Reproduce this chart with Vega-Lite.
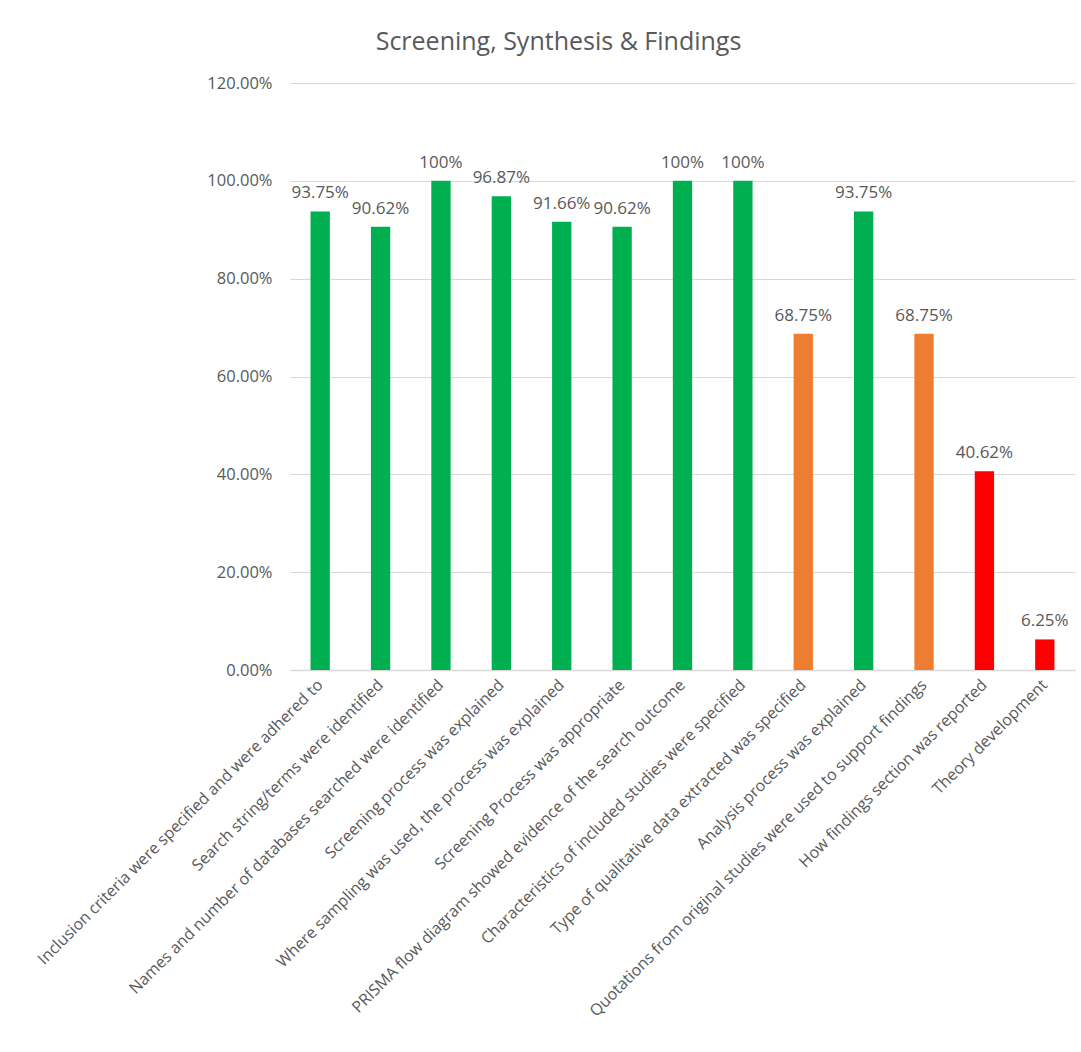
{
  "$schema": "https://vega.github.io/schema/vega-lite/v6.json",
  "width": 785,
  "height": 587,
  "autosize": {"type": "none"},
  "padding": {"left": 290, "top": 83, "right": 6, "bottom": 382},
  "background": "white",
  "config": {"view": {"stroke": null}, "font": "Open Sans"},
  "title": {
    "text": "Screening, Synthesis & Findings",
    "fontSize": 25,
    "fontWeight": "normal",
    "color": "#595959",
    "font": "Open Sans",
    "anchor": "middle",
    "dx": -124,
    "offset": 20
  },
  "data": {
    "values": [
      {"item": "Inclusion criteria were specified and were adhered to", "value": 0.9375, "label": "93.75%", "level": "high"},
      {"item": "Search string/terms were identified", "value": 0.9062, "label": "90.62%", "level": "high"},
      {"item": "Names and number of databases searched were identified", "value": 1.0, "label": "100%", "level": "high"},
      {"item": "Screening process was explained", "value": 0.9687, "label": "96.87%", "level": "high"},
      {"item": "Where sampling was used, the process was explained", "value": 0.9166, "label": "91.66%", "level": "high"},
      {"item": "Screening Process was appropriate", "value": 0.9062, "label": "90.62%", "level": "high"},
      {"item": "PRISMA flow diagram showed evidence of the search outcome", "value": 1.0, "label": "100%", "level": "high"},
      {"item": "Characteristics of included studies were specified", "value": 1.0, "label": "100%", "level": "high"},
      {"item": "Type of qualitative data extracted was specified", "value": 0.6875, "label": "68.75%", "level": "mid"},
      {"item": "Analysis process was explained", "value": 0.9375, "label": "93.75%", "level": "high"},
      {"item": "Quotations from original studies were used to support findings", "value": 0.6875, "label": "68.75%", "level": "mid"},
      {"item": "How findings section was reported", "value": 0.4062, "label": "40.62%", "level": "low"},
      {"item": "Theory development", "value": 0.0625, "label": "6.25%", "level": "low"}
    ]
  },
  "encoding": {
    "x": {
      "field": "item",
      "type": "nominal",
      "sort": null,
      "scale": {"paddingInner": 0.68, "paddingOuter": 0.34},
      "axis": {
        "title": null,
        "labelAngle": -45,
        "labelAlign": "right",
        "labelBaseline": "middle",
        "labelFontSize": 16,
        "labelColor": "#595959",
        "labelPadding": 12,
        "labelLimit": 0,
        "ticks": false,
        "domainColor": "#d9d9d9",
        "domainWidth": 1.5
      }
    },
    "y": {
      "field": "value",
      "type": "quantitative",
      "scale": {"domain": [0, 1.2]},
      "axis": {
        "title": null,
        "format": ".2%",
        "values": [0, 0.2, 0.4, 0.6, 0.8, 1.0, 1.2],
        "labelFontSize": 16.5,
        "labelColor": "#595959",
        "labelPadding": 18,
        "ticks": false,
        "domain": false,
        "gridColor": "#d9d9d9",
        "gridWidth": 1.2
      }
    }
  },
  "layer": [
    {
      "mark": {"type": "bar"},
      "encoding": {
        "color": {
          "field": "level",
          "type": "nominal",
          "scale": {"domain": ["high", "mid", "low"], "range": ["#00B050", "#ED7D31", "#FF0000"]},
          "legend": null
        }
      }
    },
    {
      "mark": {"type": "text", "baseline": "bottom", "dy": -9, "fontSize": 17, "color": "#595959"},
      "encoding": {"text": {"field": "label"}}
    }
  ]
}
